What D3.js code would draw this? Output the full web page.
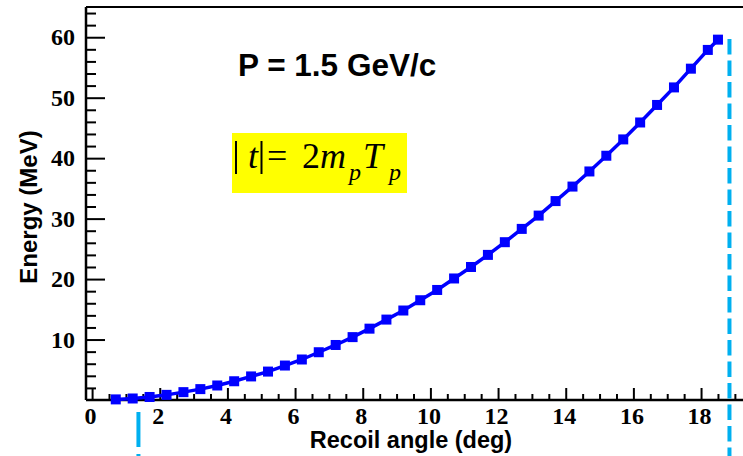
<!DOCTYPE html>
<html><head><meta charset="utf-8">
<script src="https://cdn.jsdelivr.net/npm/d3@7"></script>
<style>body{margin:0;background:#fff} svg{display:block}</style>
</head><body>
<svg id="c" width="743" height="456"></svg>
<script>
// ---- data ----
const angles = [0.7,1.2,1.7,2.2,2.7,3.2,3.7,4.2,4.7,5.2,5.7,6.2,6.7,7.2,7.7,8.2,8.7,9.2,9.7,10.2,10.7,11.2,11.7,12.2,12.7,13.2,13.7,14.2,14.7,15.2,15.7,16.2,16.7,17.2,17.7,18.2,18.5];
const energies = [0.1,0.25,0.5,0.85,1.3,1.8,2.4,3.1,3.9,4.7,5.7,6.7,7.9,9.1,10.4,11.8,13.3,14.8,16.5,18.2,20.1,22.0,24.0,26.1,28.3,30.5,32.9,35.3,37.8,40.4,43.1,45.9,48.8,51.7,54.8,57.9,59.6];
const xTickValues = [0,2,4,6,8,10,12,14,16,18];
const yTickValues = [10,20,30,40,50,60];
const cutAngles = [1.37, 18.84];
const xTitle = "Recoil angle (deg)";
const yTitle = "Energy (MeV)";
const momentumLabel = "P = 1.5 GeV/c";

const svg = d3.select("#c");
const L = 86, R = 743, T = 7, B = 400;
const x = d3.scaleLinear().domain([-0.18, 19.24]).range([L, R]);
const y = d3.scaleLinear().domain([0, 65]).range([B, T]);
const serif = "'Liberation Serif', 'Times New Roman', serif";
const sans = "'Liberation Sans', Arial, sans-serif";

// minor ticks
const xMinor = d3.range(0, 19.01, 0.5).filter(v => Math.abs(v/2 - Math.round(v/2)) > 1e-6);
const yMinor = d3.range(0, 64.1, 2).filter(v => v % 10 !== 0);

function styleTicks(g){
  g.select(".domain").remove();
  g.selectAll("line").attr("stroke","#000").attr("stroke-width",2);
}
// X axis ticks (inward / upward)
svg.append("g").attr("transform", `translate(0,${B})`)
  .call(d3.axisTop(x).tickValues(xMinor).tickSize(6).tickFormat("")).call(styleTicks);
svg.append("g").attr("transform", `translate(0,${B})`)
  .call(d3.axisTop(x).tickValues(xTickValues).tickSize(12).tickFormat("")).call(styleTicks);
svg.append("g").selectAll("text").data(xTickValues).join("text")
  .attr("x", d => x(d) - 1.5).attr("y", B + 24)
  .attr("text-anchor","middle")
  .style("font-family", serif).style("font-weight","bold").style("font-size","24px")
  .text(d => d);

// Y axis ticks (inward / right)
svg.append("g").attr("transform", `translate(${L},0)`)
  .call(d3.axisRight(y).tickValues(yMinor).tickSize(10).tickFormat("")).call(styleTicks);
svg.append("g").attr("transform", `translate(${L},0)`)
  .call(d3.axisRight(y).tickValues(yTickValues).tickSize(19).tickFormat("")).call(styleTicks);
svg.append("g").selectAll("text").data(yTickValues).join("text")
  .attr("x", 75).attr("y", d => y(d) + 8)
  .attr("text-anchor","end")
  .style("font-family", serif).style("font-weight","bold").style("font-size","24px")
  .text(d => d);

// frame lines
svg.append("line").attr("x1",L).attr("x2",R).attr("y1",B).attr("y2",B).attr("stroke","#000").attr("stroke-width",2.5);
svg.append("line").attr("x1",L).attr("x2",L).attr("y1",T).attr("y2",B).attr("stroke","#000").attr("stroke-width",2.5);
svg.append("line").attr("x1",L).attr("x2",R).attr("y1",T).attr("y2",T).attr("stroke","#000").attr("stroke-width",2);

// axis titles
svg.append("text").attr("x", 411).attr("y", 448).attr("text-anchor","middle")
  .style("font-family", sans).style("font-weight","bold").style("font-size","23.5px")
  .text(xTitle);
svg.append("text").attr("transform","translate(37,207) rotate(-90)").attr("text-anchor","middle")
  .style("font-family", sans).style("font-weight","bold").style("font-size","24px")
  .text(yTitle);

// momentum label
svg.append("text").attr("x", 238).attr("y", 76)
  .style("font-family", sans).style("font-weight","bold").style("font-size","31.5px")
  .text(momentumLabel);

// formula box
svg.append("rect").attr("x",232).attr("y",133).attr("width",175).attr("height",60).attr("fill","#ffff00");
[236, 261.5].forEach(bx => svg.append("line").attr("x1",bx).attr("x2",bx).attr("y1",141).attr("y2",174)
  .attr("stroke","#000").attr("stroke-width",2));
const f = svg.append("text")
  .style("font-family", serif).attr("fill","#000");
const pieces = [
  {t:"t", x:248, it:true},
  {t:"=", x:267, it:false},
  {t:"2", x:302, it:false},
  {t:"m", x:320, it:true},
  {t:"p", x:349, it:true, sub:true},
  {t:"T", x:363, it:true},
  {t:"p", x:389, it:true, sub:true}
];
pieces.forEach(p => {
  f.append("tspan").attr("x", p.x).attr("y", p.sub ? 180 : 168)
    .style("font-style", p.it ? "italic" : "normal")
    .style("font-size", p.sub ? "24px" : "36px")
    .text(p.t);
});

// cyan dashed cut lines
svg.append("line").attr("x1", x(cutAngles[0])).attr("x2", x(cutAngles[0]))
  .attr("y1", 412).attr("y2", 456).attr("stroke","#00b0f0").attr("stroke-width",4)
  .attr("stroke-dasharray","35,7");
svg.append("line").attr("x1", x(cutAngles[1])).attr("x2", x(cutAngles[1]))
  .attr("y1", 39).attr("y2", 456).attr("stroke","#00b0f0").attr("stroke-width",4)
  .attr("stroke-dasharray","15.5,6");

// data line + markers
const pts = angles.map((a,i) => [a, energies[i]]);
svg.append("path").datum(pts)
  .attr("fill","none").attr("stroke","#0000ff").attr("stroke-width",3.5)
  .attr("d", d3.line().x(d => x(d[0])).y(d => y(d[1])));
svg.append("g").selectAll("rect").data(pts).join("rect")
  .attr("x", d => x(d[0]) - 5).attr("y", d => y(d[1]) - 5)
  .attr("width",10).attr("height",10).attr("fill","#0000ff");
</script>
</body></html>
